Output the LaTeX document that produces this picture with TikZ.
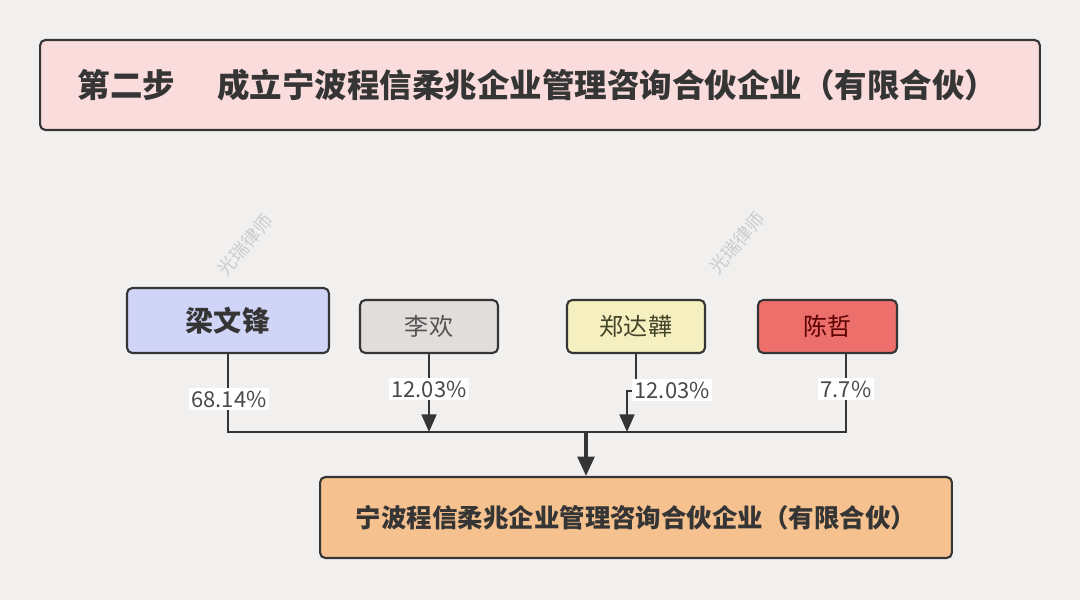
\documentclass[tikz,border=0pt]{standalone}
\usepackage{fontspec}
\setmainfont{Noto Sans CJK SC}
\usepackage{tikz}
\usetikzlibrary{positioning,arrows.meta}
\definecolor{bgc}{HTML}{F2F0EF}
\definecolor{ink}{HTML}{353535}
\definecolor{titlec}{HTML}{FADCDC}
\definecolor{liangc}{HTML}{D0D5F7}
\definecolor{lic}{HTML}{E0DDDB}
\definecolor{zhengc}{HTML}{F6F0C0}
\definecolor{chenc}{HTML}{EC6F6C}
\definecolor{firmc}{HTML}{F5C18E}

\begin{document}
\begin{tikzpicture}[x=0.02cm,y=-0.02cm,line width=1.1pt,
    >={Triangle[length=10pt,width=8.5pt]},
    box/.style={draw=ink,rounded corners=3pt,line width=1.2pt,text=ink,inner sep=0pt},
    person/.style={box,minimum width=2.76cm,minimum height=1.06cm,font=\fontsize{13.7}{16}\selectfont},
    pct/.style={fill=white,inner sep=1.5pt,text=ink!90,font=\fontsize{12.5}{14}\selectfont},
    link/.style={draw=ink},
    main/.style={draw=ink,line width=2pt,-{Triangle[length=11pt,width=9.5pt]}},
    wmark/.style={rotate=50,text=black!20,font=\fontsize{10.5}{12}\selectfont}]
			\fill[bgc] (0,0) rectangle (1080,600);
			\node[box,fill=titlec,minimum width=20cm,minimum height=1.8cm,font=\bfseries\fontsize{18.5}{20}\selectfont] (title) at (540,85) {第二步\hspace{1.3em}成立宁波程信柔兆企业管理咨询合伙企业（有限合伙）\hspace*{0.1cm}};
			\node[wmark] (wm1) at (245,245) {光瑞律师};
			\node[wmark] (wm2) at (737,243) {光瑞律师};
			\node[box,fill=liangc,minimum width=4.04cm,minimum height=1.3cm,font=\bfseries\fontsize{16}{18}\selectfont] (liang) at (228,320.5) {梁文锋};
			\node[person,fill=lic,text=ink!85] (li) at (429,326.5) {李欢};
			\node[person,fill=zhengc,text=ink!80!olive] (zheng) at (636,326.5) {郑达韡};
			\node[person,fill=chenc,text=black!65!red,minimum width=2.78cm] (chen) at (827.5,326.5) {陈哲};
			\node[box,fill=firmc,minimum width=12.64cm,minimum height=1.62cm,font=\bfseries\fontsize{14.5}{16}\selectfont] (firm) at (636,517.5) {宁波程信柔兆企业管理咨询合伙企业（有限合伙）};
			\coordinate (bus) at (586,432);
			\coordinate (chenout) at ([xshift=0.37cm]chen.south);
			\path[link]
				(liang.south) |- (chenout |- bus) -- (chenout);
			\draw[link,->] (li.south) -- (li.south |- bus);
			\draw[link,->] (zheng.south) -- ++(0,37) -| ([xshift=-0.18cm]zheng.south |- bus);
			\draw[main] (bus) -- (bus |- firm.north);
			\node[pct] (p1) at (229,399) {68.14\%};
			\node[pct] (p2) at (429,389) {12.03\%};
			\node[pct,anchor=west] (p3) at (631,390) {12.03\%};
			\node[pct] (p4) at (846,389) {7.7\%};
		\end{tikzpicture}
\end{document}
